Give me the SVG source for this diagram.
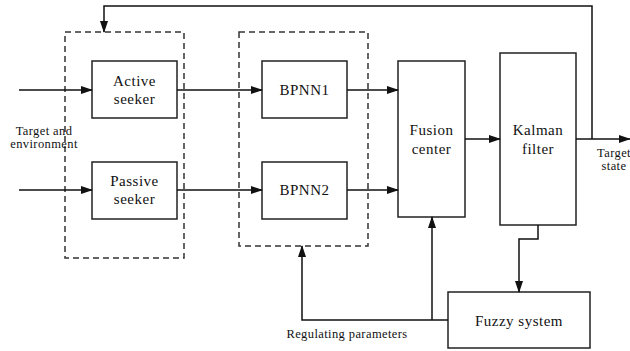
<svg xmlns="http://www.w3.org/2000/svg" width="630" height="351" viewBox="0 0 630 351">
<style>
.box{fill:#fff;stroke:#222;stroke-width:1.5}
.dash{fill:none;stroke:#333;stroke-width:1.5;stroke-dasharray:6,4}
.ln{fill:none;stroke:#111;stroke-width:1.5}
.lb{font-family:"Liberation Serif","DejaVu Serif","Times New Roman",serif;font-size:15px;letter-spacing:0.5px;fill:#111;text-anchor:middle}
.sm{font-family:"Liberation Serif","DejaVu Serif","Times New Roman",serif;font-size:12.5px;letter-spacing:0.4px;fill:#111;text-anchor:middle}
</style>
<defs>
<marker id="ah" markerWidth="12" markerHeight="8" refX="11" refY="4" orient="auto" markerUnits="userSpaceOnUse">
<path d="M0,0 L12,4 L0,8 z" fill="#111"/>
</marker>
</defs>
<rect width="630" height="351" fill="#fff"/>
<g id="group1"><rect class="dash" x="65" y="32" width="119" height="226"/></g>
<g id="group2"><rect class="dash" x="239" y="32" width="129" height="214"/></g>
<g id="active"><rect class="box" x="92" y="61" width="85" height="57"/><text class="lb" x="134.5" y="86">Active</text><text class="lb" x="134.5" y="104">seeker</text></g>
<g id="passive"><rect class="box" x="92" y="162" width="85" height="57"/><text class="lb" x="134.5" y="186">Passive</text><text class="lb" x="134.5" y="204">seeker</text></g>
<g id="bpnn1"><rect class="box" x="262" y="61" width="85" height="57"/><text class="lb" x="304.5" y="95">BPNN1</text></g>
<g id="bpnn2"><rect class="box" x="262" y="162" width="85" height="57"/><text class="lb" x="304.5" y="195">BPNN2</text></g>
<g id="fusion"><rect class="box" x="398" y="61" width="67" height="156"/><text class="lb" x="431.5" y="135">Fusion</text><text class="lb" x="431.5" y="154">center</text></g>
<g id="kalman"><rect class="box" x="500" y="53" width="76" height="172"/><text class="lb" x="538" y="135">Kalman</text><text class="lb" x="538" y="154">filter</text></g>
<g id="fuzzy"><rect class="box" x="448" y="292" width="142" height="56"/><text class="lb" x="519" y="326">Fuzzy system</text></g>
<g id="labels">
<text class="sm" x="44" y="135">Target and</text>
<text class="sm" x="44" y="148">environment</text>
<text class="sm" x="614" y="157">Target</text>
<text class="sm" x="614" y="170">state</text>
<text class="sm" x="347" y="338">Regulating parameters</text>
</g>
<g id="connectors">
<line class="ln" x1="19" y1="90" x2="92" y2="90" marker-end="url(#ah)"/>
<line class="ln" x1="19" y1="190" x2="92" y2="190" marker-end="url(#ah)"/>
<line class="ln" x1="177" y1="90" x2="262" y2="90" marker-end="url(#ah)"/>
<line class="ln" x1="177" y1="190" x2="262" y2="190" marker-end="url(#ah)"/>
<line class="ln" x1="347" y1="90" x2="398" y2="90" marker-end="url(#ah)"/>
<line class="ln" x1="347" y1="190" x2="398" y2="190" marker-end="url(#ah)"/>
<line class="ln" x1="465" y1="139" x2="500" y2="139" marker-end="url(#ah)"/>
<line class="ln" x1="576" y1="139" x2="630" y2="139" marker-end="url(#ah)"/>
<polyline class="ln" points="592,139 592,6 104,6 104,32" marker-end="url(#ah)"/>
<polyline class="ln" points="538,225 538,239 519,239 519,292" marker-end="url(#ah)"/>
<polyline class="ln" points="448,320 302,320 302,246" marker-end="url(#ah)"/>
<line class="ln" x1="432" y1="320" x2="432" y2="217" marker-end="url(#ah)"/>
</g>
</svg>
